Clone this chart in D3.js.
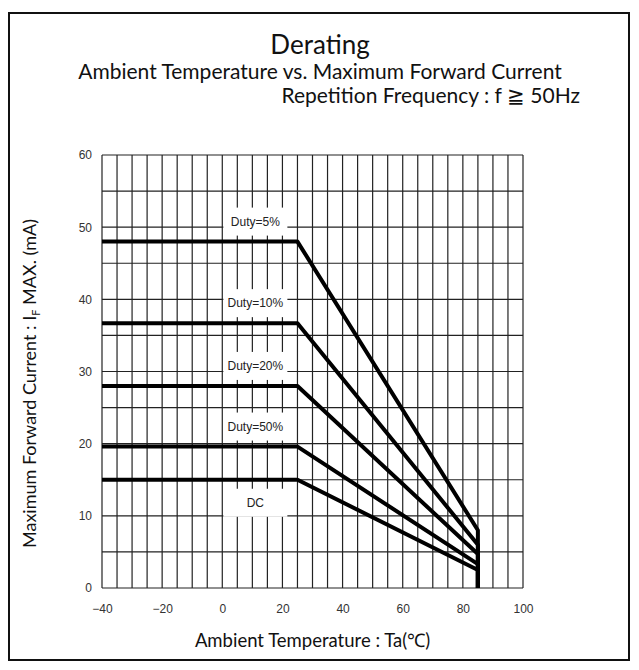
<!DOCTYPE html>
<html>
<head>
<meta charset="utf-8">
<script src="https://cdn.jsdelivr.net/npm/d3@7"></script>
<style>
  body { margin: 0; background: #fff; }
  svg { display: block; }
  .tick-label { font-family: "Liberation Sans Narrow", "Arial Narrow", sans-serif; font-size: 12px; fill: #333; }
  .duty-label { font-family: "Liberation Sans Narrow", "Arial Narrow", sans-serif; font-size: 12px; fill: #222; }
  .title { font-family: Lato, "Open Sans", sans-serif; fill: #111; }
</style>
</head>
<body>
<svg id="chart"></svg>
<script>
const width = 639;
const height = 670;

// values
const seriesNames = ["Duty=5%", "Duty=10%", "Duty=20%", "Duty=50%", "DC"];
const flatCurrent = [48, 36.7, 28, 19.6, 15];      // mA, from -40 up to the knee
const kneeTemp = [25, 25, 25, 25, 25];             // degC
const endTemp = [85, 85, 85, 85, 85];              // degC
const endCurrent = [8, 6, 4.7, 3.3, 2.5];          // mA at 85 degC
const xTicks = [-40, -20, 0, 20, 40, 60, 80, 100];
const yTicks = [0, 10, 20, 30, 40, 50, 60];

const margin = { top: 155, right: 116, bottom: 82, left: 102 };

const svg = d3.select("#chart").attr("width", width).attr("height", height);

svg.append("rect")
    .attr("x", 9).attr("y", 13)
    .attr("width", 620).attr("height", 647)
    .attr("fill", "none")
    .attr("stroke", "#111")
    .attr("stroke-width", 2);

const x = d3.scaleLinear().domain([-40, 100]).range([margin.left, width - margin.right]);
const y = d3.scaleLinear().domain([0, 60]).range([height - margin.bottom, margin.top]);

// grid every 5 units
const grid = svg.append("g").attr("stroke", "#222").attr("stroke-width", 1.2);
grid.selectAll("line.v")
    .data(d3.range(-40, 101, 5))
    .enter().append("line")
    .attr("x1", d => x(d)).attr("x2", d => x(d))
    .attr("y1", y(0)).attr("y2", y(60));
grid.selectAll("line.h")
    .data(d3.range(0, 61, 5))
    .enter().append("line")
    .attr("x1", x(-40)).attr("x2", x(100))
    .attr("y1", d => y(d)).attr("y2", d => y(d));

// axes, only used for the labels
const xAxis = svg.append("g")
    .attr("transform", `translate(0,${y(0)})`)
    .call(d3.axisBottom(x).tickValues(xTicks).tickSize(0).tickPadding(16).tickFormat(d => d < 0 ? "\u2212" + (-d) : d));
const yAxis = svg.append("g")
    .attr("transform", `translate(${x(-40)},0)`)
    .call(d3.axisLeft(y).tickValues(yTicks).tickSize(0).tickPadding(10));
[xAxis, yAxis].forEach(a => {
    a.select(".domain").remove();
    a.selectAll("text").attr("class", "tick-label").attr("fill", null);
});

const series = seriesNames.map((name, i) => ({
    name: name,
    points: [[-40, flatCurrent[i]], [kneeTemp[i], flatCurrent[i]], [endTemp[i], endCurrent[i]], [endTemp[i], 0]]
}));

// labels sit on white patches that hide the grid
const labels = svg.append("g");
series.forEach((s, i) => {
    const below = s.name === "DC";
    const cy = y(flatCurrent[i]) + (below ? 23 : -20);
    labels.append("rect")
        .attr("x", x(11) - 32).attr("y", cy - 14)
        .attr("width", 64).attr("height", 28)
        .attr("fill", "#fff");
    labels.append("text")
        .attr("class", "duty-label")
        .attr("x", x(11)).attr("y", cy + 4)
        .attr("text-anchor", "middle")
        .text(s.name);
});

const line = d3.line().x(d => x(d[0])).y(d => y(d[1]));
svg.append("g").selectAll("path")
    .data(series)
    .enter().append("path")
    .attr("d", d => line(d.points))
    .attr("fill", "none")
    .attr("stroke", "#000")
    .attr("stroke-width", 4)
    .attr("stroke-linejoin", "round");

// titles
svg.append("text").attr("class", "title")
    .attr("x", 320).attr("y", 54)
    .attr("text-anchor", "middle").attr("font-size", 26)
    .text("Derating");
svg.append("text").attr("class", "title")
    .attr("x", 320).attr("y", 79)
    .attr("text-anchor", "middle").attr("font-size", 21)
    .text("Ambient Temperature vs. Maximum Forward Current");
svg.append("text").attr("class", "title")
    .attr("x", 580).attr("y", 103)
    .attr("text-anchor", "end").attr("font-size", 21)
    .text("Repetition Frequency : f \u2267 50Hz");

svg.append("text").attr("class", "title")
    .attr("x", (x(-40) + x(100)) / 2).attr("y", 647)
    .attr("text-anchor", "middle").attr("font-size", 18.5)
    .text("Ambient Temperature : Ta(\u2103)");

const yTitle = svg.append("text").attr("class", "title")
    .attr("transform", `translate(36,${(y(0) + y(60)) / 2 + 12}) rotate(-90)`)
    .attr("text-anchor", "middle").attr("font-size", 18);
yTitle.append("tspan").text("Maximum Forward Current : I");
yTitle.append("tspan").attr("font-size", 11).attr("dy", 4).text("F");
yTitle.append("tspan").attr("dy", -4).text(" MAX. (mA)");
</script>
</body>
</html>
